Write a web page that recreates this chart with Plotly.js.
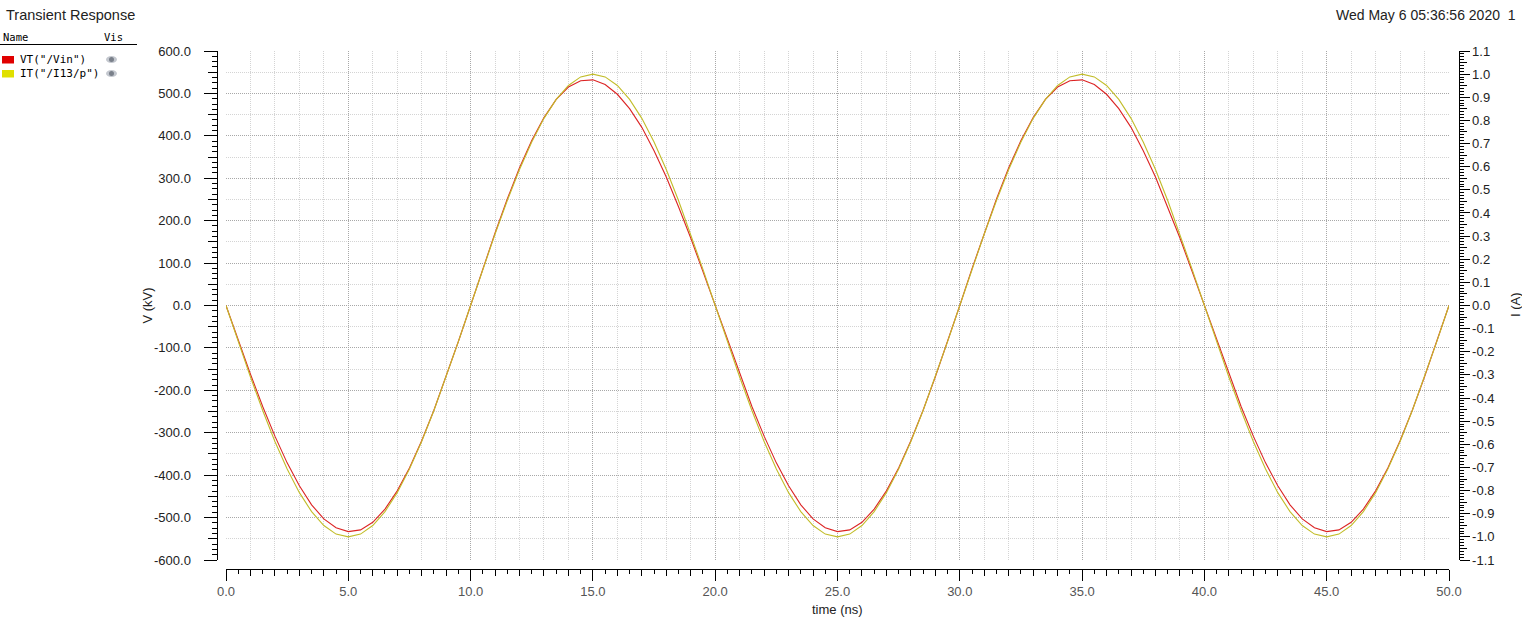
<!DOCTYPE html>
<html>
<head>
<meta charset="utf-8">
<script src="https://cdn.plot.ly/plotly-3.0.1.min.js"></script>
<style>
  html, body { margin: 0; padding: 0; background: #fff; }
  #chart { width: 1522px; height: 618px; }
</style>
</head>
<body>
<div id="chart"></div>
<script>
const timeNs = [
  0, 0.5, 1, 1.5, 2, 2.5, 3, 3.5, 4, 4.5, 5, 5.5, 6, 6.5, 7, 7.5, 8, 8.5, 9, 9.5,
  10, 10.5, 11, 11.5, 12, 12.5, 13, 13.5, 14, 14.5, 15, 15.5, 16, 16.5, 17, 17.5, 18, 18.5, 19, 19.5,
  20, 20.5, 21, 21.5, 22, 22.5, 23, 23.5, 24, 24.5, 25, 25.5, 26, 26.5, 27, 27.5, 28, 28.5, 29, 29.5,
  30, 30.5, 31, 31.5, 32, 32.5, 33, 33.5, 34, 34.5, 35, 35.5, 36, 36.5, 37, 37.5, 38, 38.5, 39, 39.5,
  40, 40.5, 41, 41.5, 42, 42.5, 43, 43.5, 44, 44.5, 45, 45.5, 46, 46.5, 47, 47.5, 48, 48.5, 49, 49.5,
  50,
];

// VT("/Vin") in kV
const vinKV = [
  0, -82, -162, -238, -308, -371, -425, -470, -503, -524, -533, -529, -511, -480, -437, -383, -319, -247, -168, -85,
  0, 87, 171, 251, 325, 389, 443, 486, 515, 530, 532, 521, 498, 464, 420, 365, 303, 233, 159, 80,
  0, -82, -162, -238, -308, -371, -425, -470, -503, -524, -533, -529, -511, -480, -437, -383, -319, -247, -168, -85,
  0, 87, 171, 251, 325, 389, 443, 486, 515, 530, 532, 521, 498, 464, 420, 365, 303, 233, 159, 80,
  0, -82, -162, -238, -308, -371, -425, -470, -503, -524, -533, -529, -511, -480, -437, -383, -319, -247, -168, -85,
  0,
];

// IT("/I13/p") in A
const i13A = [
  0, -0.156, -0.309, -0.454, -0.588, -0.707, -0.809, -0.891, -0.951, -0.988, -1.0, -0.988, -0.951, -0.891, -0.809, -0.707, -0.588, -0.454, -0.309, -0.156,
  0, 0.156, 0.309, 0.454, 0.588, 0.707, 0.809, 0.891, 0.951, 0.988, 1.0, 0.988, 0.951, 0.891, 0.809, 0.707, 0.588, 0.454, 0.309, 0.156,
  0, -0.156, -0.309, -0.454, -0.588, -0.707, -0.809, -0.891, -0.951, -0.988, -1.0, -0.988, -0.951, -0.891, -0.809, -0.707, -0.588, -0.454, -0.309, -0.156,
  0, 0.156, 0.309, 0.454, 0.588, 0.707, 0.809, 0.891, 0.951, 0.988, 1.0, 0.988, 0.951, 0.891, 0.809, 0.707, 0.588, 0.454, 0.309, 0.156,
  0, -0.156, -0.309, -0.454, -0.588, -0.707, -0.809, -0.891, -0.951, -0.988, -1.0, -0.988, -0.951, -0.891, -0.809, -0.707, -0.588, -0.454, -0.309, -0.156,
  0,
];

const vTickVals = [-600, -500, -400, -300, -200, -100, 0, 100, 200, 300, 400, 500, 600];
const vTickText = ["-600.0", "-500.0", "-400.0", "-300.0", "-200.0", "-100.0", "0.0",
  "100.0", "200.0", "300.0", "400.0", "500.0", "600.0"];
const iTickVals = [-1.1, -1.0, -0.9, -0.8, -0.7, -0.6, -0.5, -0.4, -0.3, -0.2, -0.1, 0,
  0.1, 0.2, 0.3, 0.4, 0.5, 0.6, 0.7, 0.8, 0.9, 1.0, 1.1];
const iTickText = ["-1.1", "-1.0", "-0.9", "-0.8", "-0.7", "-0.6", "-0.5", "-0.4", "-0.3", "-0.2", "-0.1", "0.0",
  "0.1", "0.2", "0.3", "0.4", "0.5", "0.6", "0.7", "0.8", "0.9", "1.0", "1.1"];

const W = 1522, H = 618;
const px = (x) => x / W;
const py = (y) => 1 - y / H;

const FONT = "Liberation Sans, Arial, sans-serif";
const MONO = "DejaVu Sans Mono, monospace";
const DOT = "1px,1px";

const lineVin = {
  x: timeNs, y: vinKV, mode: "lines", name: 'VT("/Vin")',
  line: { color: "#dc2424", width: 1.1 }, xaxis: "x", yaxis: "y",
};
const lineI13 = {
  x: timeNs, y: i13A, mode: "lines", name: 'IT("/I13/p")',
  line: { color: "#c2bd2a", width: 1.1 }, xaxis: "x2", yaxis: "y2",
};
// invisible copies so the fine-tick axes (y3, y4) get a subplot and are drawn
const ghostV = { x: timeNs, y: vinKV, mode: "lines", line: { color: "rgba(0,0,0,0)", width: 0 },
  xaxis: "x", yaxis: "y3", hoverinfo: "skip" };
const ghostI = { x: timeNs, y: i13A, mode: "lines", line: { color: "rgba(0,0,0,0)", width: 0 },
  xaxis: "x2", yaxis: "y4", hoverinfo: "skip" };

const tickFont = { family: FONT, size: 13, color: "#222" };
const yPos = px(216.5), y2Pos = px(1458.5), xPos = py(568.5);

const layout = {
  width: W, height: H,
  margin: { l: 0, r: 0, t: 0, b: 0 },
  paper_bgcolor: "#fff", plot_bgcolor: "#fff",
  showlegend: false,
  font: { family: FONT, color: "#222" },
  xaxis: {
    domain: [px(226), px(1449)], anchor: "free", position: xPos,
    range: [0, 50], tick0: 0, dtick: 5, tickformat: ".1f",
    ticks: "outside", ticklen: 11, tickcolor: "#000",
    showline: true, linecolor: "#000", linewidth: 1,
    tickfont: { family: FONT, size: 13, color: "#555" },
    showgrid: true, gridcolor: "#a8a8a8", griddash: DOT, zeroline: false,
    minor: { dtick: 1, ticks: "outside", ticklen: 6, tickcolor: "#000",
      showgrid: true, gridcolor: "#d4d4d4", griddash: DOT },
  },
  xaxis2: {
    overlaying: "x", anchor: "free", position: xPos,
    range: [0, 50], tick0: 0, dtick: 0.5, ticks: "outside", ticklen: 4, tickcolor: "#000",
    showticklabels: false, showgrid: false, zeroline: false, showline: false,
  },
  yaxis: {
    domain: [py(560), py(51)], anchor: "free", position: yPos,
    range: [-600, 600], tickmode: "array", tickvals: vTickVals, ticktext: vTickText,
    ticks: "outside", ticklen: 13, tickcolor: "#000", ticklabelstandoff: 10,
    showline: true, linecolor: "#000", linewidth: 1, tickfont: tickFont,
    showgrid: true, gridcolor: "#a8a8a8", griddash: DOT, zeroline: false,
    minor: { tick0: 0, dtick: 50, ticks: "outside", ticklen: 9, tickcolor: "#000",
      showgrid: true, gridcolor: "#d4d4d4", griddash: DOT },
  },
  yaxis3: {
    overlaying: "y", side: "left", anchor: "free", position: yPos,
    range: [-600, 600], tick0: 0, dtick: 12.5, ticks: "outside", ticklen: 5, tickcolor: "#000",
    showticklabels: false, showgrid: false, zeroline: false, showline: false,
  },
  yaxis2: {
    overlaying: "y", side: "right", anchor: "free", position: y2Pos,
    range: [-1.1, 1.1], tickmode: "array", tickvals: iTickVals, ticktext: iTickText,
    ticks: "outside", ticklen: 10, tickcolor: "#000", ticklabelstandoff: 0,
    showline: true, linecolor: "#000", linewidth: 1, tickfont: tickFont,
    showgrid: false, zeroline: false,
    minor: { tick0: 0, dtick: 0.05, ticks: "outside", ticklen: 7, tickcolor: "#000", showgrid: false },
  },
  yaxis4: {
    overlaying: "y", side: "right", anchor: "free", position: y2Pos,
    range: [-1.1, 1.1], tick0: 0, dtick: 0.0125, ticks: "outside", ticklen: 4, tickcolor: "#000",
    showticklabels: false, showgrid: false, zeroline: false, showline: false,
  },
  shapes: [
    // legend table: header rule, colour swatches, visibility eyes
    { type: "line", xref: "paper", yref: "paper", x0: px(0), x1: px(137), y0: py(44.5), y1: py(44.5),
      line: { color: "#000", width: 1 } },
    { type: "rect", xref: "paper", yref: "paper", x0: px(2), x1: px(14), y0: py(56), y1: py(63.5),
      fillcolor: "#e00000", line: { width: 0 } },
    { type: "rect", xref: "paper", yref: "paper", x0: px(2), x1: px(14), y0: py(70), y1: py(77.5),
      fillcolor: "#e0e000", line: { width: 0 } },
    { type: "circle", xref: "paper", yref: "paper", x0: px(106), x1: px(117), y0: py(56), y1: py(63),
      fillcolor: "#c4c8cf", line: { width: 0 } },
    { type: "circle", xref: "paper", yref: "paper", x0: px(109), x1: px(114), y0: py(57), y1: py(62),
      fillcolor: "#7a808a", line: { width: 0 } },
    { type: "circle", xref: "paper", yref: "paper", x0: px(106), x1: px(117), y0: py(70), y1: py(77),
      fillcolor: "#c4c8cf", line: { width: 0 } },
    { type: "circle", xref: "paper", yref: "paper", x0: px(109), x1: px(114), y0: py(71), y1: py(76),
      fillcolor: "#7a808a", line: { width: 0 } },
  ],
  annotations: [
    { text: "Transient Response", xref: "paper", yref: "paper", x: px(4), y: py(15),
      xanchor: "left", yanchor: "middle", showarrow: false, font: { family: FONT, size: 14.5, color: "#222" } },
    { text: "Wed May 6 05:36:56 2020\u00a0\u00a01", xref: "paper", yref: "paper", x: px(1518), y: py(15),
      xanchor: "right", yanchor: "middle", showarrow: false, font: { family: FONT, size: 14, color: "#222" } },
    { text: "Name", xref: "paper", yref: "paper", x: px(1), y: py(36.5),
      xanchor: "left", yanchor: "middle", showarrow: false, font: { family: MONO, size: 10.5, color: "#000" } },
    { text: "Vis", xref: "paper", yref: "paper", x: px(102), y: py(36.5),
      xanchor: "left", yanchor: "middle", showarrow: false, font: { family: MONO, size: 10.5, color: "#000" } },
    { text: 'VT("/Vin")', xref: "paper", yref: "paper", x: px(18), y: py(59.5),
      xanchor: "left", yanchor: "middle", showarrow: false, font: { family: MONO, size: 11, color: "#000" } },
    { text: 'IT("/I13/p")', xref: "paper", yref: "paper", x: px(18), y: py(73.5),
      xanchor: "left", yanchor: "middle", showarrow: false, font: { family: MONO, size: 11, color: "#000" } },
    { text: "V (kV)", xref: "paper", yref: "paper", x: px(146.5), y: py(306), textangle: -90,
      xanchor: "center", yanchor: "middle", showarrow: false, font: { family: FONT, size: 13, color: "#222" } },
    { text: "I (A)", xref: "paper", yref: "paper", x: px(1515), y: py(305), textangle: -90,
      xanchor: "center", yanchor: "middle", showarrow: false, font: { family: FONT, size: 13, color: "#222" } },
    { text: "time (ns)", xref: "paper", yref: "paper", x: px(837.5), y: py(609.5),
      xanchor: "center", yanchor: "middle", showarrow: false, font: { family: FONT, size: 13, color: "#222" } },
  ],
};

Plotly.newPlot("chart", [lineVin, lineI13, ghostV, ghostI], layout, { displayModeBar: false, staticPlot: true });
</script>
</body>
</html>
